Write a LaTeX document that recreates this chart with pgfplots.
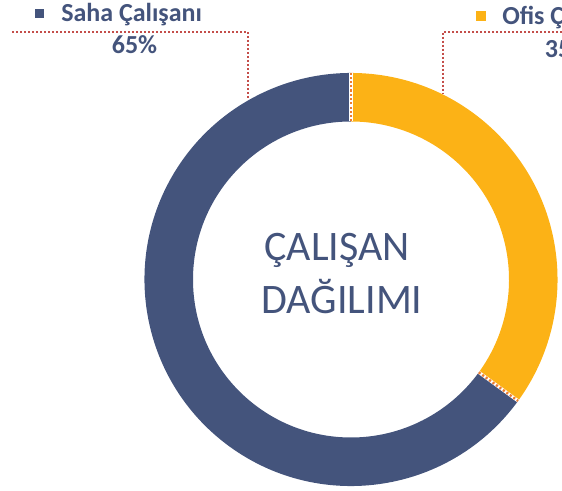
\documentclass[border=0pt]{standalone}
\usepackage{fontspec}
\setmainfont{Carlito}
\usepackage{pgfplots}
\usepackage{pgfplotstable}
\pgfplotsset{compat=1.18}
\usetikzlibrary{calc}
\definecolor{navy}{RGB}{68,84,124}
\definecolor{gold}{RGB}{252,178,22}
\definecolor{lead}{RGB}{196,78,74}
\definecolor{sep}{RGB}{237,125,49}

\pgfplotstableread{
label value
Saha 65
Ofis 35
}\shares

\begin{document}
\begin{tikzpicture}[x=0.75pt,y=0.75pt]
\pgfplotstablegetelem{0}{value}\of\shares \edef\vsaha{\pgfplotsretval}
\pgfplotstablegetelem{1}{value}\of\shares \edef\vofis{\pgfplotsretval}
\pgfmathsetmacro\abreak{90-3.6*\vofis}
\pgfmathsetmacro\asahaend{\abreak-3.6*\vsaha}
\def\Ro{154.9pt}
\def\Ri{118.5pt}
\begin{scope}
\clip (0,0) rectangle (562,491);
\begin{axis}[at={(0,0)},anchor=south west, width=421.5pt, height=368.25pt,
  scale only axis, xmin=0,xmax=562,ymin=0,ymax=491, y dir=reverse, hide axis, clip=false]
\coordinate (c) at (axis cs:351,279.5);
% Ofis slice
\fill[gold] ($(c)+(90:\Ro)$) arc[start angle=90,end angle=\abreak,radius=\Ro]
  -- ($(c)+(\abreak:\Ri)$) arc[start angle=\abreak,end angle=90,radius=\Ri] -- cycle;
% Saha slice
\fill[navy] ($(c)+(\abreak:\Ro)$) arc[start angle=\abreak,end angle=\asahaend,radius=\Ro]
  -- ($(c)+(\asahaend:\Ri)$) arc[start angle=\asahaend,end angle=\abreak,radius=\Ri] -- cycle;
% separators
\draw[white, line width=2.4pt] ($(c)+(90:\Ri)$) -- ($(c)+(90:\Ro)$);
\draw[white, line width=2.4pt] ($(c)+(\abreak:\Ri)$) -- ($(c)+(\abreak:\Ro)$);
\draw[sep, line width=1.8pt, dash pattern=on 1.6pt off 1.6pt] ($(c)+(90:\Ri)$) -- ($(c)+(90:\Ro)$);
\draw[sep, line width=1.8pt, dash pattern=on 1.6pt off 1.6pt] ($(c)+(\abreak:\Ri)$) -- ($(c)+(\abreak:\Ro)$);
% leader lines
\draw[lead, line width=1.5pt, dash pattern=on 1.5pt off 1.5pt] (axis cs:12,32.3) -- (axis cs:248,32.3) -- (axis cs:248,100);
\draw[lead, line width=1.5pt, dash pattern=on 1.5pt off 1.5pt] (axis cs:562,31.7) -- (axis cs:443,31.7) -- (axis cs:443,94);
% labels
\fill[navy] (axis cs:35,9) rectangle (axis cs:44,18);
\node[anchor=base west, inner sep=0, text=navy, font=\fontsize{19.5}{23}\selectfont\bfseries] at (axis cs:61,21.7) {Saha Çalışanı};
\node[anchor=base, inner sep=0, text=navy, font=\fontsize{19.5}{23}\selectfont\bfseries] at (axis cs:134.5,54) {\vsaha\%};
\fill[gold] (axis cs:476,11.3) rectangle (axis cs:486,20.7);
\node[anchor=base west, inner sep=0, text=navy, font=\fontsize{19.5}{23}\selectfont\bfseries] at (axis cs:502,25) {Ofis Çalışanı};
\node[anchor=base, inner sep=0, text=navy, font=\fontsize{19.5}{23}\selectfont\bfseries] at (axis cs:567.5,57.5) {\vofis\%};
% centre text
\node[anchor=base, inner sep=0, text=navy, font=\fontsize{31.5}{38}\selectfont] at (axis cs:337,261) {ÇALIŞAN};
\node[anchor=base, inner sep=0, text=navy, font=\fontsize{31.5}{38}\selectfont] at (axis cs:342,314) {DAĞILIMI};
\end{axis}
\end{scope}
\pgfresetboundingbox
\path[use as bounding box] (0,0) rectangle (562,491);
\end{tikzpicture}
\end{document}
